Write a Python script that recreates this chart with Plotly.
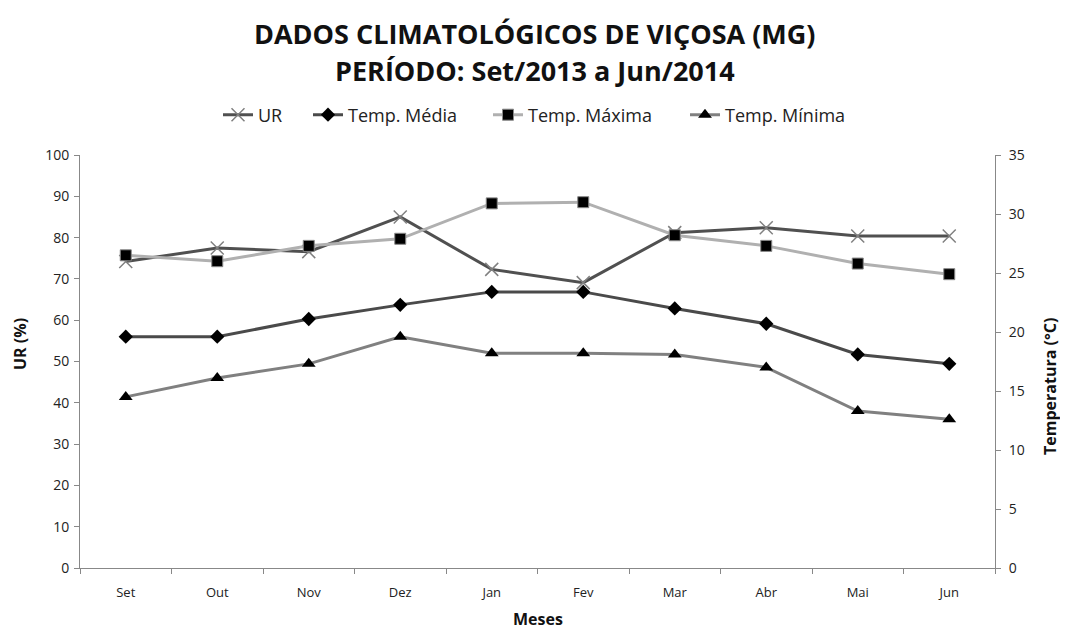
import plotly.graph_objects as go

meses = ["Set", "Out", "Nov", "Dez", "Jan", "Fev", "Mar", "Abr", "Mai", "Jun"]
ur = [74.2, 77.5, 76.6, 85.0, 72.3, 69.1, 81.2, 82.4, 80.4, 80.4]
temp_media = [19.6, 19.6, 21.1, 22.3, 23.4, 23.4, 22.0, 20.7, 18.1, 17.3]
temp_maxima = [26.5, 26.0, 27.3, 27.9, 30.9, 31.0, 28.2, 27.3, 25.8, 24.9]
temp_minima = [14.5, 16.1, 17.3, 19.6, 18.2, 18.2, 18.1, 17.0, 13.3, 12.6]

FONT = "'Open Sans', sans-serif"
W, H = 1060, 622
L, R, T, B = 72, 73, 147, 62
PW, PH = W - L - R, H - T - B


def px(x):
    return (x - 8 - L) / PW


def py(y):
    return (H - B - (y - 8)) / PH


fig = go.Figure()
fig.add_trace(go.Scatter(
    x=meses, y=ur, name="UR", mode="lines+markers", legend="legend",
    line=dict(color="#505050", width=3),
    marker=dict(symbol="x-thin-open", size=13, color="#808080", line=dict(width=1.5, color="#808080")),
    yaxis="y"))
fig.add_trace(go.Scatter(
    x=meses, y=temp_media, name="Temp. Média", mode="lines+markers", legend="legend2",
    line=dict(color="#4a4a4a", width=3),
    marker=dict(symbol="diamond", size=11, color="#000000"),
    yaxis="y2"))
fig.add_trace(go.Scatter(
    x=meses, y=temp_maxima, name="Temp. Máxima", mode="lines+markers", legend="legend3",
    line=dict(color="#b0b0b0", width=3),
    marker=dict(symbol="square", size=11, color="#000000", line=dict(width=1, color="#888888")),
    yaxis="y2"))
fig.add_trace(go.Scatter(
    x=meses, y=temp_minima, name="Temp. Mínima", mode="lines+markers", legend="legend4",
    line=dict(color="#808080", width=3),
    marker=dict(symbol="triangle-up", size=12, color="#000000"),
    yaxis="y2"))

leg_font = dict(size=18, family=FONT, color="#222222")
leg_y = py(115)


def leg(xs):
    return dict(orientation="h", x=px(xs), xanchor="left", y=leg_y, yanchor="middle",
                font=leg_font, bgcolor="rgba(0,0,0,0)")


fig.update_layout(
    width=W, height=H,
    paper_bgcolor="white", plot_bgcolor="white",
    margin=dict(l=L, r=R, t=T, b=B),
    font=dict(family=FONT, color="#222222"),
    showlegend=True,
    legend=leg(218),
    legend2=leg(308),
    legend3=leg(488),
    legend4=leg(685),
    xaxis=dict(
        type="category", range=[-0.5, 9.5], automargin=False,
        showline=True, linecolor="#888888", linewidth=1,
        ticks="outside", tickson="boundaries", ticklen=5, tickcolor="#888888",
        ticklabelstandoff=12,
        showgrid=False, zeroline=False,
        tickfont=dict(size=13, color="#222222")),
    yaxis=dict(
        range=[0, 100], dtick=10, automargin=False,
        showline=True, linecolor="#888888", linewidth=1,
        ticks="outside", ticklen=5, tickcolor="#888888",
        ticklabelstandoff=2,
        showgrid=False, zeroline=False,
        tickfont=dict(size=14, color="#222222")),
    yaxis2=dict(
        range=[0, 35], dtick=5, overlaying="y", side="right", automargin=False,
        showline=True, linecolor="#888888", linewidth=1,
        ticks="outside", ticklen=5, tickcolor="#888888",
        ticklabelstandoff=5,
        showgrid=False, zeroline=False,
        tickfont=dict(size=14, color="#222222")),
)

title_font = dict(size=27, family=FONT, color="#111111")
ann = [
    dict(text="<b>DADOS CLIMATOLÓGICOS DE VIÇOSA (MG)</b>", x=px(535), y=py(33), font=title_font),
    dict(text="<b>PERÍODO: Set/2013 a Jun/2014</b>", x=px(535), y=py(70), font=title_font),
    dict(text="<b>Meses</b>", x=px(538), y=py(619), font=dict(size=16, color="#111111")),
    dict(text="<b>UR (%)</b>", x=px(20), y=py(344), textangle=-90, font=dict(size=16, color="#111111")),
    dict(text="<b>Temperatura (°C)</b>", x=px(1050), y=py(387), textangle=-90,
         font=dict(size=16, color="#111111")),
]
for a in ann:
    fig.add_annotation(xref="paper", yref="paper", xanchor="center", yanchor="middle",
                       showarrow=False, **a)

fig.write_html("out.html")
